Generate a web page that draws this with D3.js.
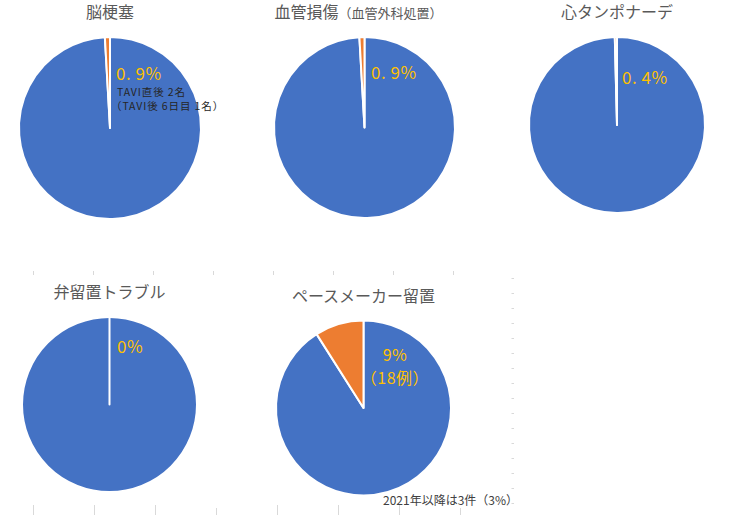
<!doctype html>
<html>
<head>
  <meta charset="utf-8">
  <script src="https://d3js.org/d3.v7.min.js"></script>
  <style>
    body { margin: 0; background: #fff; }
    text { font-family: "Noto Sans CJK JP", "Noto Sans", sans-serif; }
  </style>
</head>
<body>
<svg width="748" height="515"></svg>
<script>
// chart data
var titles = ["脳梗塞", "血管損傷", "心タンポナーデ", "弁留置トラブル", "ペースメーカー留置"]
var titleSub = ["", "（血管外科処置）", "", "", ""]
var eventShare = [0.9, 0.9, 0.4, 0, 9]          // orange slice, %
var shareLabels = [["0. 9%"], ["0. 9%"], ["0. 4%"], ["0%"], ["9%", "（18例）"]]
var notes = [["TAVI直後 2名", "（TAVI後 6日目 1名）"], [], [], [], []]
var footnote = "2021年以降は3件（3%）"

var blue = "#4472C4", orange = "#ED7D31", gold = "#FFC000"

var svg = d3.select("svg")

// faint leftover cell borders
var grid = svg.append("g").attr("stroke", "#d9d9d9").attr("stroke-width", 1)
d3.range(8).forEach(function(i) {
  var x = 33.5 + 60 * i
  grid.append("line").attr("x1", x).attr("x2", x).attr("y1", 271).attr("y2", 275)
})
d3.range(8).forEach(function(i) {
  var x = 33.5 + 61 * i
  grid.append("line").attr("x1", x).attr("x2", x).attr("y1", i == 3 || i == 7 ? 508 : 505).attr("y2", 515)
})
d3.range(16).forEach(function(i) {
  var y = 278.5 + 15 * i
  grid.append("line").attr("x1", 511.5).attr("x2", 514).attr("y1", y).attr("y2", y)
})

// layout of each pie
var cells = [
  { cx: 110, cy: 128, r: 91, ty: 18, lx: 116, ly: 80, anchor: "start", fs: 17 },
  { cx: 364.5, cy: 127.5, r: 90.5, ty: 18, lx: 371, ly: 79, anchor: "start", fs: 17 },
  { cx: 617, cy: 125, r: 88, ty: 18, lx: 622, ly: 84, anchor: "start", fs: 17 },
  { cx: 109.5, cy: 404.5, r: 87.5, ty: 298, lx: 117, ly: 353, anchor: "start", fs: 17 },
  { cx: 363.5, cy: 408, r: 87.5, ty: 302, lx: 395, ly: 361, anchor: "middle", fs: 16 }
]

var pie = d3.pie().sort(null)
var arc = d3.arc().innerRadius(0)

titles.forEach(function(t, i) {
  var c = cells[i]
  var g = svg.append("g").attr("transform", "translate(" + c.cx + "," + c.cy + ")")

  g.selectAll("path")
    .data(pie([100 - eventShare[i], eventShare[i]]))
    .enter()
    .append("path")
    .attr("d", arc.outerRadius(c.r))
    .attr("fill", function(d, j) { return j == 0 ? blue : orange })
    .attr("stroke", "#fff")
    .attr("stroke-width", 2)
    .attr("stroke-linejoin", "round")

  var tt = svg.append("text")
    .attr("x", c.cx - (titleSub[i] ? 6 : 0))
    .attr("y", c.ty)
    .attr("text-anchor", "middle")
    .attr("fill", "#595959")
    .attr("font-size", "16px")
  tt.append("tspan").text(t)
  if (titleSub[i]) tt.append("tspan").attr("font-size", "13px").text(titleSub[i])

  var lab = svg.append("text")
    .attr("y", c.ly)
    .attr("text-anchor", c.anchor)
    .attr("fill", gold)
    .attr("font-size", c.fs + "px")
    .attr("letter-spacing", "0.5px")
  shareLabels[i].forEach(function(s, k) {
    lab.append("tspan").attr("x", c.lx).attr("dy", k == 0 ? 0 : 23).text(s)
  })

  if (notes[i].length) {
    var nt = svg.append("text")
      .attr("y", 96)
      .attr("fill", "#262626")
      .attr("font-size", "10.5px")
      .attr("letter-spacing", "0.9px")
    notes[i].forEach(function(s, k) {
      nt.append("tspan").attr("x", k == 0 ? 117 : 111).attr("dy", k == 0 ? 0 : 14).text(s)
    })
  }
})

svg.append("text")
  .attr("x", 383)
  .attr("y", 505)
  .attr("fill", "#404040")
  .attr("font-size", "12px")
  .text(footnote)
</script>
</body>
</html>
